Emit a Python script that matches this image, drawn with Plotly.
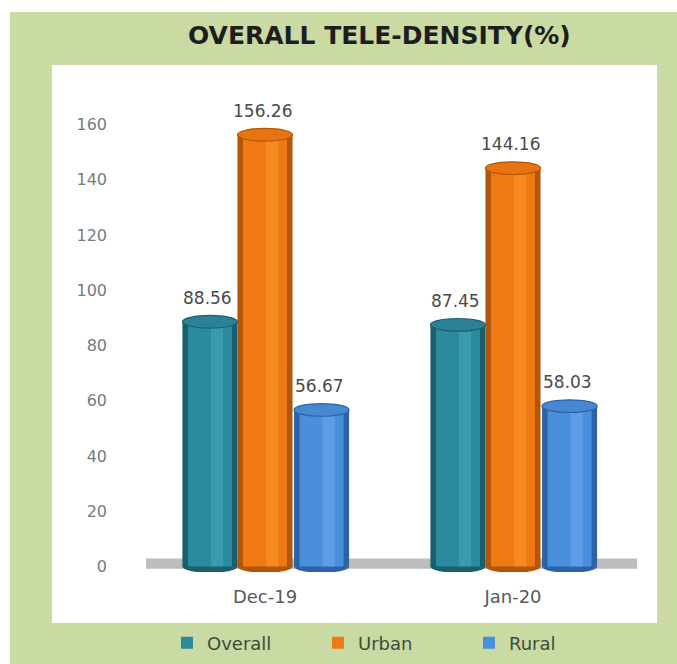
import plotly.graph_objects as go

categories = ["Dec-19", "Jan-20"]
series_names = ["Overall", "Urban", "Rural"]
overall = [88.56, 87.45]
urban = [156.26, 144.16]
rural = [56.67, 58.03]
y_ticks = [0, 20, 40, 60, 80, 100, 120, 140, 160]
title_text = "OVERALL TELE-DENSITY(%)"

values = [overall, urban, rural]
centers = [-0.222, 0.0, 0.228]
w = 0.222
edge_cols = ["#1a5f6d", "#b3560a", "#2d62a6"]
mid_cols = ["#2b8a9e", "#ef7a12", "#4a8fdc"]
hi_cols = ["#4bb0c2", "#ff9d3a", "#77b0f2"]
top_cols = ["#2a8296", "#e8740f", "#4688d4"]

W, H = 677, 664
L, R, T, B = 141, 40, 65, 92
pw, ph = W - L - R, H - T - B


def px(x):
    return (x - L) / pw


def py(y):
    return (H - B - y) / ph


fig = go.Figure()
ell = 2.3
for i, name in enumerate(series_names):
    c = centers[i]
    vals = values[i]
    fig.add_trace(go.Bar(x=categories, y=vals, width=w, offset=c - w / 2,
                         marker=dict(color=edge_cols[i], line=dict(width=0)),
                         showlegend=False, hoverinfo="skip"))
    fig.add_trace(go.Bar(x=categories, y=vals, width=w * 0.8, offset=c - w * 0.4,
                         marker=dict(color=mid_cols[i], line=dict(width=0)),
                         name=name, showlegend=True))
    fig.add_trace(go.Bar(x=categories, y=vals, width=w * 0.22, offset=c + w * 0.02,
                         marker=dict(color=hi_cols[i], line=dict(width=0)),
                         opacity=0.45, showlegend=False, hoverinfo="skip"))

shapes = []
shapes.append(dict(type="rect", xref="paper", yref="paper", x0=px(10), x1=px(677),
                   y0=py(664), y1=py(12), fillcolor="#c9daa3", line=dict(width=0), layer="below"))
shapes.append(dict(type="rect", xref="paper", yref="paper", x0=px(52), x1=px(657),
                   y0=py(623), y1=py(65), fillcolor="#ffffff", line=dict(width=0), layer="below"))
shapes.append(dict(type="rect", xref="paper", yref="y", x0=px(146), x1=px(637),
                   y0=-0.8, y1=2.9, fillcolor="#bdbdbd", line=dict(width=0), layer="below"))

for i in range(3):
    c = centers[i]
    for k, v in enumerate(values[i]):
        xc = k + c
        shapes.append(dict(type="circle", xref="x", yref="y", x0=xc - w / 2, x1=xc + w / 2,
                           y0=-ell, y1=ell, fillcolor=edge_cols[i], line=dict(width=0), layer="below"))
        shapes.append(dict(type="circle", xref="x", yref="y", x0=xc - w / 2, x1=xc + w / 2,
                           y0=v - ell, y1=v + ell, fillcolor=top_cols[i],
                           line=dict(width=1.2, color=edge_cols[i]), layer="above"))

annotations = []
for i in range(3):
    for k, v in enumerate(values[i]):
        annotations.append(dict(x=k + centers[i] - 0.01, y=v, xref="x", yref="y",
                                text=f"{v:.2f}", showarrow=False, yshift=24,
                                font=dict(family="DejaVu Sans", size=17, color="#4a4a4a")))
annotations.append(dict(x=px(379), y=py(36), xref="paper", yref="paper",
                        text="<b>" + title_text + "</b>",
                        showarrow=False, font=dict(family="DejaVu Sans", size=25, color="#1e1e1e"),
                        xanchor="center", yanchor="middle"))

fig.update_layout(
    width=W, height=H,
    margin=dict(l=L, r=R, t=T, b=B, pad=0, autoexpand=False),
    paper_bgcolor="#ffffff", plot_bgcolor="rgba(0,0,0,0)",
    barmode="overlay",
    shapes=shapes, annotations=annotations,
    showlegend=True,
    legend=dict(orientation="h", x=px(167), y=py(643), xanchor="left", yanchor="middle",
                font=dict(family="DejaVu Sans", size=18, color="#3d4c3a"),
                bgcolor="rgba(0,0,0,0)", entrywidth=106, entrywidthmode="pixels",
                itemclick=False, itemdoubleclick=False),
    xaxis=dict(range=[-0.5, 1.5], showgrid=False, zeroline=False, showline=False,
               tickfont=dict(family="DejaVu Sans", size=18, color="#5a5a5a"),
               ticklabelstandoff=12, fixedrange=True),
    yaxis=dict(range=[-2, 181.5], tickvals=y_ticks, showgrid=False, zeroline=False,
               showline=False, tickfont=dict(family="DejaVu Sans", size=16, color="#7a7a7a"),
               ticklabelstandoff=33, fixedrange=True),
)

fig.write_html("out.html")
